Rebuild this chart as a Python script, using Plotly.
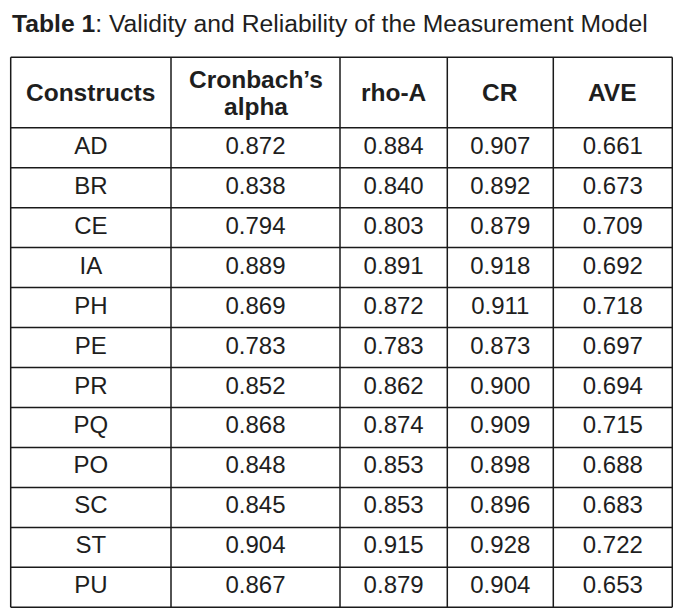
import plotly.graph_objects as go

# ---- data ----
title_bold = "Table 1"
title_rest = ": Validity and Reliability of the Measurement Model"
headers = ["Constructs", "Cronbach’s<br>alpha", "rho-A", "CR", "AVE"]
constructs = ["AD", "BR", "CE", "IA", "PH", "PE", "PR", "PQ", "PO", "SC", "ST", "PU"]
cronbach_alpha = [0.872, 0.838, 0.794, 0.889, 0.869, 0.783, 0.852, 0.868, 0.848, 0.845, 0.904, 0.867]
rho_a = [0.884, 0.840, 0.803, 0.891, 0.872, 0.783, 0.862, 0.874, 0.853, 0.853, 0.915, 0.879]
cr = [0.907, 0.892, 0.879, 0.918, 0.911, 0.873, 0.900, 0.909, 0.898, 0.896, 0.928, 0.904]
ave = [0.661, 0.673, 0.709, 0.692, 0.718, 0.697, 0.694, 0.715, 0.688, 0.683, 0.722, 0.653]

# ---- layout geometry (page pixels; the page body has an 8px margin) ----
OFF = 8
X0, X1 = OFF, 673
Y0, Y1 = OFF, 608
col_edges = [10.7, 171, 340, 447.3, 553.3, 672.3]
table_top = 57.3
header_bottom = 127.7
row_h = 39.97
header_line_gap = 27
FONT = "Arial, Liberation Sans, sans-serif"
TXT = "#1e1e1e"
LINE = "#1a1a1a"
FS = 24
HFS = 24.5
TFS = 24.7

n = len(constructs)
columns = [constructs,
           [f"{v:.3f}" for v in cronbach_alpha],
           [f"{v:.3f}" for v in rho_a],
           [f"{v:.3f}" for v in cr],
           [f"{v:.3f}" for v in ave]]

fig = go.Figure()
row_centers = [header_bottom + (i + 0.5) * row_h for i in range(n)]
for j, col in enumerate(columns):
    xc = (col_edges[j] + col_edges[j + 1]) / 2
    fig.add_trace(go.Scatter(
        x=[xc] * n, y=row_centers, text=col, mode="text",
        textposition="middle center",
        textfont=dict(family=FONT, size=FS, color=TXT),
        hoverinfo="skip", showlegend=False))

shapes = []
bottom = header_bottom + n * row_h
for xe in col_edges:
    shapes.append(dict(type="line", x0=xe, x1=xe, y0=table_top, y1=bottom,
                       line=dict(color=LINE, width=1.5)))
for ye in [table_top, header_bottom] + [header_bottom + (i + 1) * row_h for i in range(n)]:
    shapes.append(dict(type="line", x0=col_edges[0], x1=col_edges[-1], y0=ye, y1=ye,
                       line=dict(color=LINE, width=1.5)))

annotations = []
hc = (table_top + header_bottom) / 2
for j, h in enumerate(headers):
    xc = (col_edges[j] + col_edges[j + 1]) / 2
    parts = h.split("<br>")
    k = len(parts)
    for m, p in enumerate(parts):
        yc = hc + (m - (k - 1) / 2) * header_line_gap
        annotations.append(dict(x=xc, y=yc, text=f"<b>{p}</b>", showarrow=False,
                                xanchor="center", yanchor="middle", align="center",
                                font=dict(family=FONT, size=HFS, color=TXT)))
annotations.append(dict(x=10, y=23, text=f"<b>{title_bold}</b>{title_rest}",
                        showarrow=False, xanchor="left", yanchor="middle",
                        font=dict(family=FONT, size=TFS, color=TXT)))

fig.update_layout(
    width=X1 - X0, height=Y1 - Y0, margin=dict(l=0, r=0, t=0, b=0, pad=0),
    paper_bgcolor="white", plot_bgcolor="white",
    xaxis=dict(range=[X0, X1], visible=False, fixedrange=True),
    yaxis=dict(range=[Y1, Y0], visible=False, fixedrange=True),
    shapes=shapes, annotations=annotations,
)
fig.write_html("out.html")
